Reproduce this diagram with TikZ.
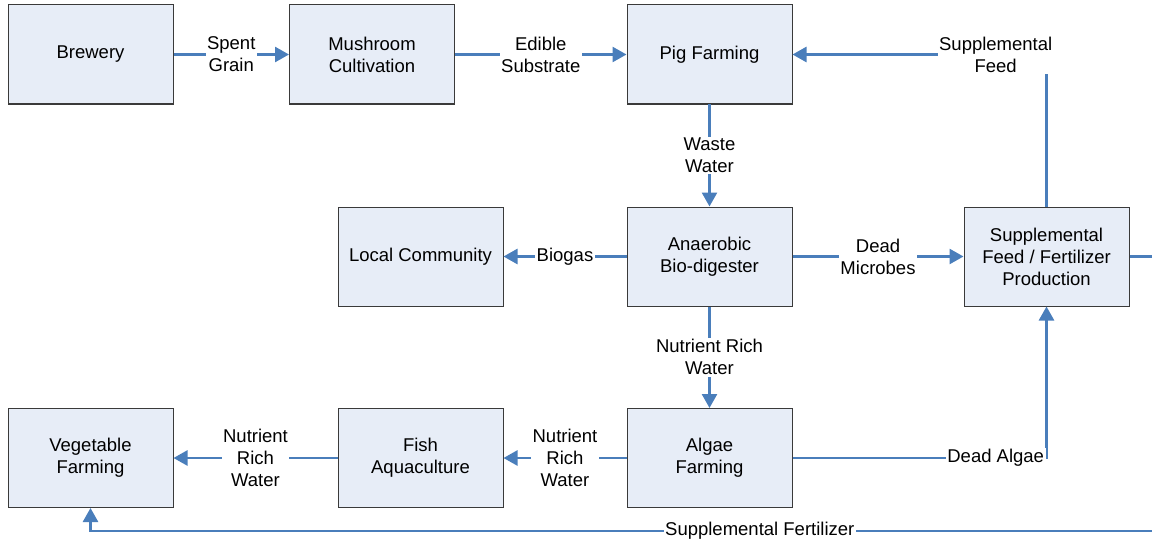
\documentclass[tikz,border=0pt]{standalone}
\usepackage{fontspec}
\setmainfont{Liberation Sans}
\usetikzlibrary{arrows.meta}
\definecolor{boxfill}{HTML}{E7EDF7}
\definecolor{boxline}{HTML}{3A3A3A}
\definecolor{flowblue}{HTML}{4A7EBB}
\begin{document}
\begin{tikzpicture}[x=1pt,y=-1pt,
  stage/.style={draw=boxline,line width=1pt,fill=boxfill,minimum width=165pt,
    minimum height=99pt,align=center,inner sep=0pt,
    font=\fontsize{18.5}{22}\selectfont},
  flow/.style={draw=flowblue,line width=2.6pt,
    -{Triangle[length=14pt,width=15pt]}},
  lbl/.style={fill=white,inner sep=1.5pt,align=center,text=black,
    font=\fontsize{18.5}{22}\selectfont}]
\useasboundingbox (0,0) rectangle (1152,543);
% process stages
\node[stage] (brew) at (90.5,54.5) {Brewery};
\node[stage] (mush) at (372,54.5) {Mushroom\\Cultivation};
\node[stage] (pig)  at (709.5,54.5) {Pig Farming};
\node[stage] (comm) at (420.5,256.5) {Local Community};
\node[stage] (dig)  at (709.5,256.5) {Anaerobic\\Bio-digester};
\node[stage] (feed) at (1046.5,256.5) {Supplemental\\Feed / Fertilizer\\Production};
\node[stage] (veg)  at (90.5,458) {Vegetable\\Farming};
\node[stage] (fish) at (420.5,458) {Fish\\Aquaculture};
\node[stage] (alg)  at (709.5,458) {Algae\\Farming};
% return loop running past the right edge
\coordinate (r1) at (1170,256.5);
\coordinate (r2) at (1170,531);
% material flows
\draw[flow] (brew) -- node[lbl]{Spent\\Grain} (mush);
\draw[flow] (mush) -- node[lbl]{Edible\\Substrate} (pig);
\draw[flow] (feed.north) |- node[lbl,pos=0.6]{Supplemental\\Feed} (pig.east);
\draw[flow] (pig) -- node[lbl]{Waste\\Water} (dig);
\draw[flow] (dig) -- node[lbl]{Biogas} (comm);
\draw[flow] (dig) -- node[lbl]{Dead\\Microbes} (feed);
\draw[flow] (dig) -- node[lbl]{Nutrient Rich\\Water} (alg);
\draw[flow] (alg) -- node[lbl]{Nutrient\\Rich\\Water} (fish);
\draw[flow] (fish) -- node[lbl]{Nutrient\\Rich\\Water} (veg);
\draw[flow] (alg.east) -| node[lbl,pos=0.4]{Dead Algae} (feed.south);
\draw[flow] (feed.east) -- (r1) -- (r2) -| node[lbl,pos=0.19]{Supplemental Fertilizer} (veg.south);
\end{tikzpicture}
\end{document}
